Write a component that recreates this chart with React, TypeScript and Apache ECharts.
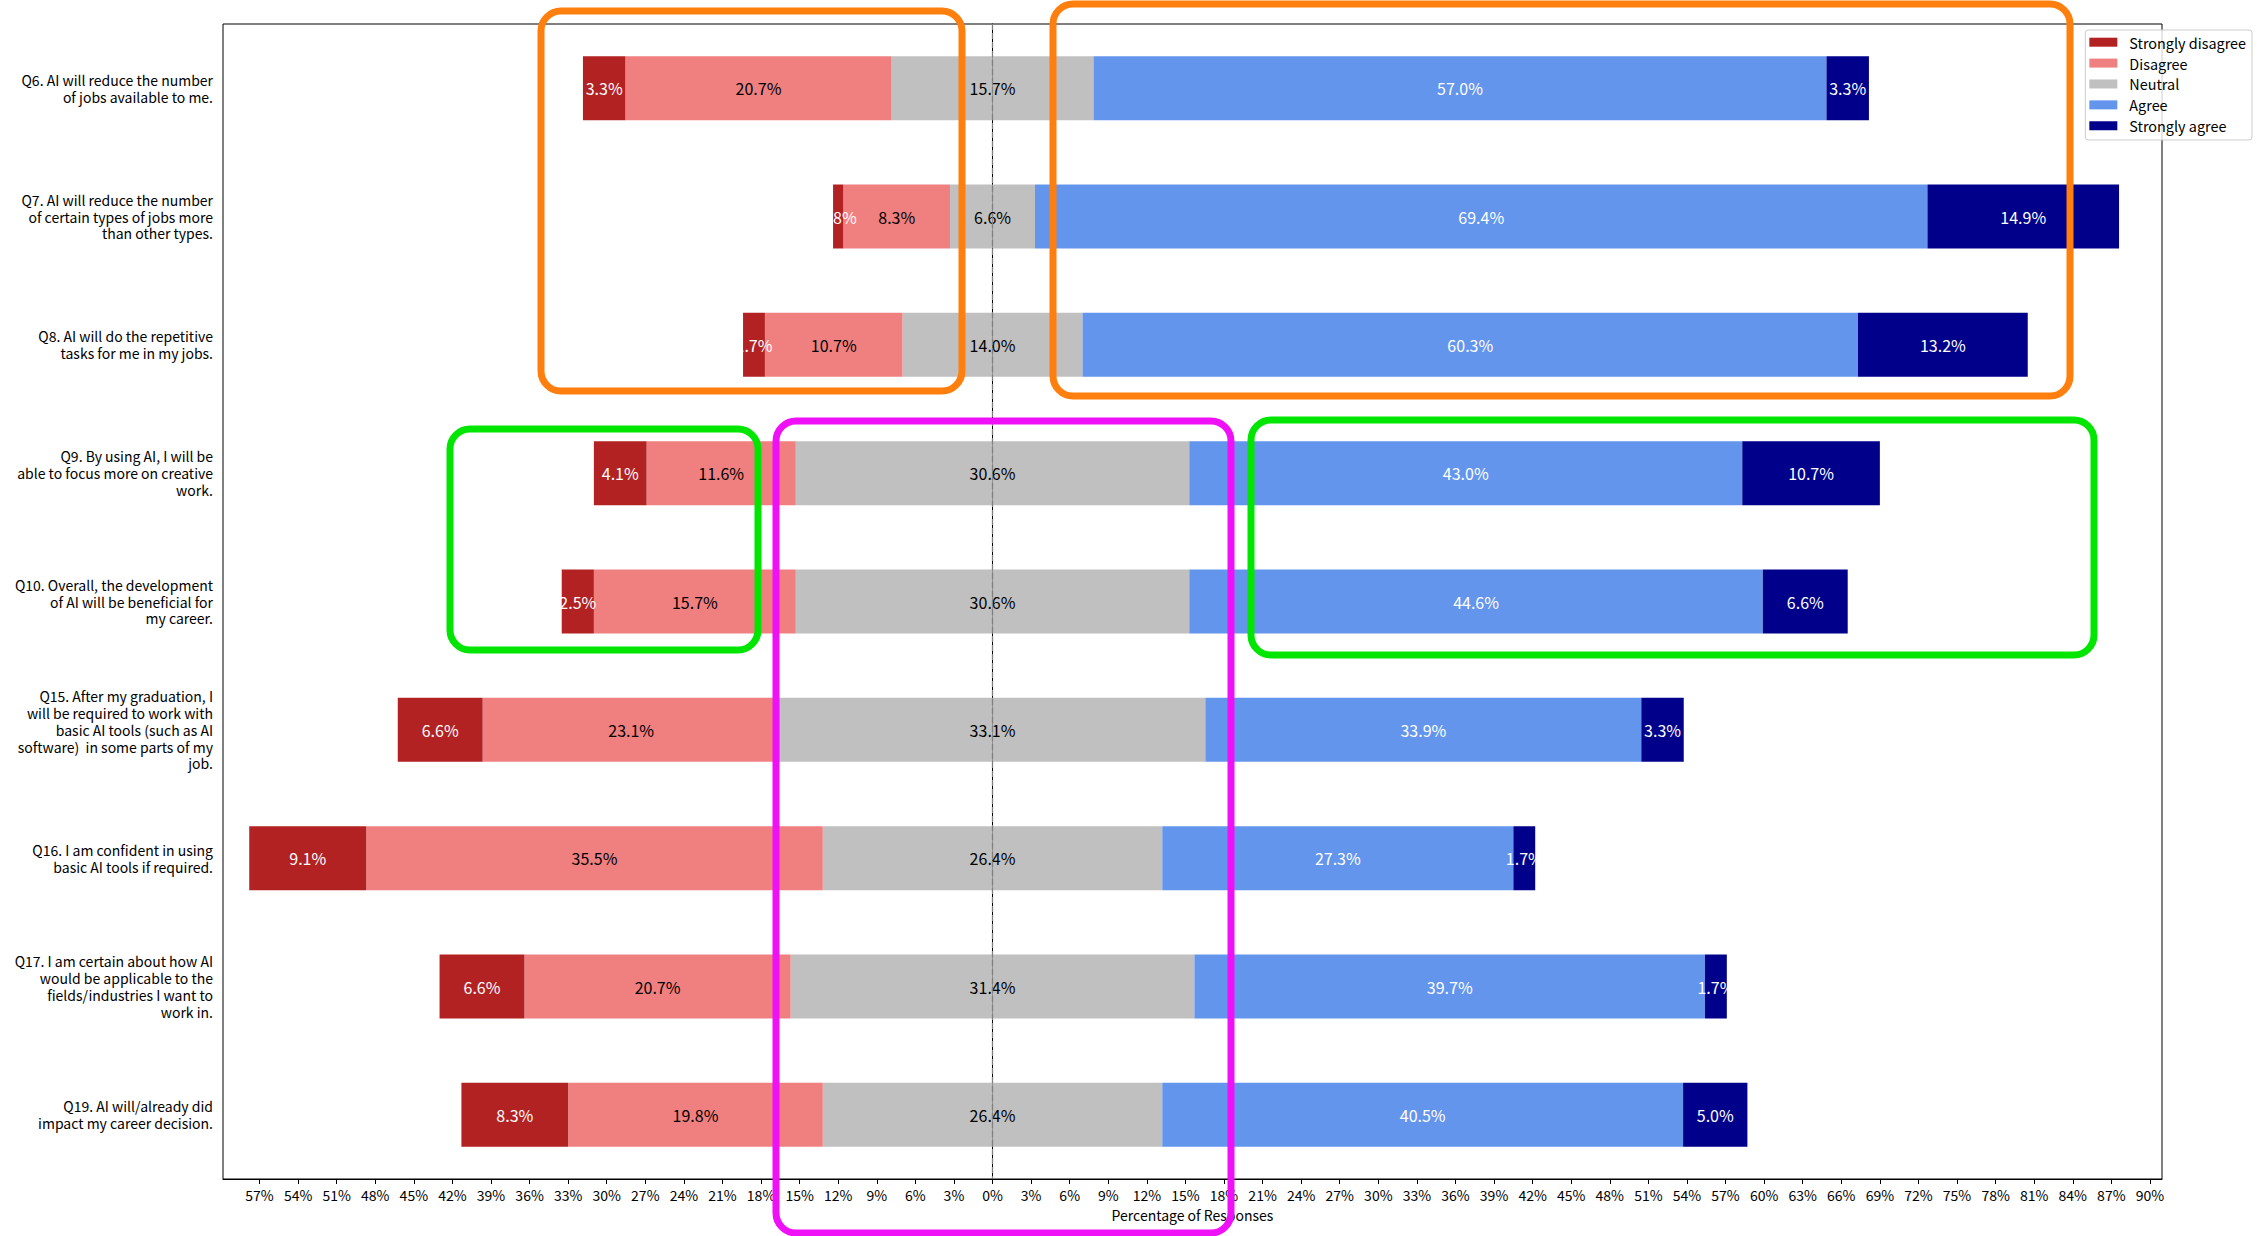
import React, { useEffect, useRef } from 'react';
import * as echarts from 'echarts';

const QUESTIONS = [
  'Q6. AI will reduce the number\nof jobs available to me.',
  'Q7. AI will reduce the number\nof certain types of jobs more\nthan other types.',
  'Q8. AI will do the repetitive\ntasks for me in my jobs.',
  'Q9. By using AI, I will be\nable to focus more on creative\nwork.',
  'Q10. Overall, the development\nof AI will be beneficial for\nmy career.',
  'Q15. After my graduation, I\nwill be required to work with\nbasic AI tools (such as AI\nsoftware)  in some parts of my\njob.',
  'Q16. I am confident in using\nbasic AI tools if required.',
  'Q17. I am certain about how AI\nwould be applicable to the\nfields/industries I want to\nwork in.',
  'Q19. AI will/already did\nimpact my career decision.',
];

const STRONGLY_DISAGREE = [3.3, 0.8, 1.7, 4.1, 2.5, 6.6, 9.1, 6.6, 8.3];
const DISAGREE = [20.7, 8.3, 10.7, 11.6, 15.7, 23.1, 35.5, 20.7, 19.8];
const NEUTRAL = [15.7, 6.6, 14.0, 30.6, 30.6, 33.1, 26.4, 31.4, 26.4];
const AGREE = [57.0, 69.4, 60.3, 43.0, 44.6, 33.9, 27.3, 39.7, 40.5];
const STRONGLY_AGREE = [3.3, 14.9, 13.2, 10.7, 6.6, 3.3, 1.7, 1.7, 5.0];

const X_TICKS = [
  -57, -54, -51, -48, -45, -42, -39, -36, -33, -30, -27, -24, -21, -18, -15, -12, -9, -6, -3, 0,
  3, 6, 9, 12, 15, 18, 21, 24, 27, 30, 33, 36, 39, 42, 45, 48, 51, 54, 57, 60, 63, 66, 69, 72, 75,
  78, 81, 84, 87, 90,
];
const X_MIN = -59.84;
const X_MAX = 90.94;

const LEGEND_NAMES = ['Strongly disagree', 'Disagree', 'Neutral', 'Agree', 'Strongly agree'];
const COLORS = {
  sd: '#B22222',
  d: '#F08080',
  n: '#C0C0C0',
  a: '#6495ED',
  sa: '#00008B',
};

const FONT = "'Noto Sans CJK SC', 'Noto Sans', sans-serif";

// annotation frames (pixel positions of the highlight boxes)
const FRAMES = [
  { x: 541, y: 11, w: 421, h: 380, color: '#FF7F0E' },
  { x: 1053, y: 4, w: 1017, h: 392, color: '#FF7F0E' },
  { x: 450, y: 429, w: 308, h: 221, color: '#00E600' },
  { x: 1251, y: 420, w: 843, h: 235, color: '#00E600' },
  { x: 776, y: 421, w: 455, h: 812, color: '#F010F8' },
];

const fmt = (arr: number[]) => (p: any) => arr[p.dataIndex].toFixed(1) + '%';

export default function App() {
  const ref = useRef<HTMLDivElement>(null);

  useEffect(() => {
    if (!ref.current) return;
    const chart = echarts.init(ref.current, undefined, { renderer: 'svg' });

    const labelBase = {
      show: true,
      fontFamily: FONT,
      fontSize: 16,
      textBorderWidth: 0,
    };

    const barBase = {
      type: 'bar' as const,
      stack: 'likert',
      barWidth: 64,
      z: 2,
    };

    const option: any = {
      animation: false,
      backgroundColor: '#ffffff',
      textStyle: { fontFamily: FONT },
      grid: {
        left: 223,
        right: 97,
        top: 24,
        bottom: 57,
        show: true,
        borderColor: '#000',
        borderWidth: 1,
        backgroundColor: 'transparent',
      },
      legend: {
        data: LEGEND_NAMES,
        orient: 'vertical',
        right: 7,
        top: 30,
        icon: 'rect',
        itemWidth: 28,
        itemHeight: 9,
        itemGap: 6.5,
        padding: [5, 6, 7, 4],
        backgroundColor: 'rgba(255,255,255,0.8)',
        borderColor: '#cccccc',
        borderWidth: 1,
        borderRadius: 3,
        z: 20,
        textStyle: {
          fontFamily: FONT,
          fontSize: 14.4,
          lineHeight: 14,
          color: '#000',
          padding: [0, 0, 0, 7],
        },
      },
      xAxis: {
        type: 'value',
        min: X_MIN,
        max: X_MAX,
        name: 'Percentage of Responses',
        nameLocation: 'middle',
        nameGap: 29,
        nameTextStyle: { fontFamily: FONT, fontSize: 14, color: '#000' },
        axisLine: { show: true, lineStyle: { color: '#000', width: 1 } },
        axisTick: {
          show: true,
          length: 5,
          lineStyle: { color: '#000' },
          customValues: X_TICKS,
        },
        axisLabel: {
          customValues: X_TICKS,
          fontFamily: FONT,
          fontSize: 14,
          color: '#000',
          margin: 9,
          formatter: (v: number) => Math.abs(Math.round(v)) + '%',
        },
        splitLine: { show: false },
      },
      yAxis: {
        type: 'category',
        inverse: true,
        data: QUESTIONS,
        axisLine: { show: true, lineStyle: { color: '#000', width: 1 } },
        axisTick: { show: true, length: 5, alignWithLabel: true, lineStyle: { color: '#000' } },
        axisLabel: {
          fontFamily: FONT,
          fontSize: 14,
          lineHeight: 16.8,
          color: '#000',
          margin: 10,
          align: 'right',
        },
        splitLine: { show: false },
      },
      series: [
        {
          type: 'line',
          name: 'zero-line',
          data: [],
          z: 1,
          silent: true,
          markLine: {
            silent: true,
            symbol: ['none', 'none'],
            label: { show: false },
            lineStyle: { color: '#808080', type: [6, 3], width: 1.3 },
            data: [{ xAxis: 0 }],
          },
        },
        {
          ...barBase,
          name: 'Neutral',
          id: 'neutral-left',
          data: NEUTRAL.map((v) => -v / 2),
          itemStyle: { color: COLORS.n },
          label: { show: false },
        },
        {
          ...barBase,
          name: 'Disagree',
          data: DISAGREE.map((v) => -v),
          itemStyle: { color: COLORS.d },
          label: { ...labelBase, position: 'inside', color: '#000', formatter: fmt(DISAGREE) },
        },
        {
          ...barBase,
          name: 'Strongly disagree',
          data: STRONGLY_DISAGREE.map((v) => -v),
          itemStyle: { color: COLORS.sd },
          label: { ...labelBase, position: 'inside', color: '#fff', formatter: fmt(STRONGLY_DISAGREE) },
        },
        {
          ...barBase,
          name: 'Neutral',
          id: 'neutral-right',
          data: NEUTRAL.map((v) => v / 2),
          itemStyle: { color: COLORS.n },
          label: {
            ...labelBase,
            position: [0, '50%'],
            align: 'center',
            verticalAlign: 'middle',
            color: '#000',
            formatter: fmt(NEUTRAL),
          },
        },
        {
          ...barBase,
          name: 'Agree',
          data: AGREE,
          itemStyle: { color: COLORS.a },
          label: { ...labelBase, position: 'inside', color: '#fff', formatter: fmt(AGREE) },
        },
        {
          ...barBase,
          name: 'Strongly agree',
          data: STRONGLY_AGREE,
          itemStyle: { color: COLORS.sa },
          label: { ...labelBase, position: 'inside', color: '#fff', formatter: fmt(STRONGLY_AGREE) },
        },
      ],
      graphic: FRAMES.map((f) => ({
        type: 'rect',
        z: 100,
        silent: true,
        shape: { x: f.x, y: f.y, width: f.w, height: f.h, r: 20 },
        style: { fill: 'none', stroke: f.color, lineWidth: 7 },
      })),
    };

    chart.setOption(option);
    return () => chart.dispose();
  }, []);

  return (
    <div
      ref={ref}
      style={{ position: 'fixed', left: 0, top: 0, width: 2259, height: 1236, background: '#fff' }}
    />
  );
}
